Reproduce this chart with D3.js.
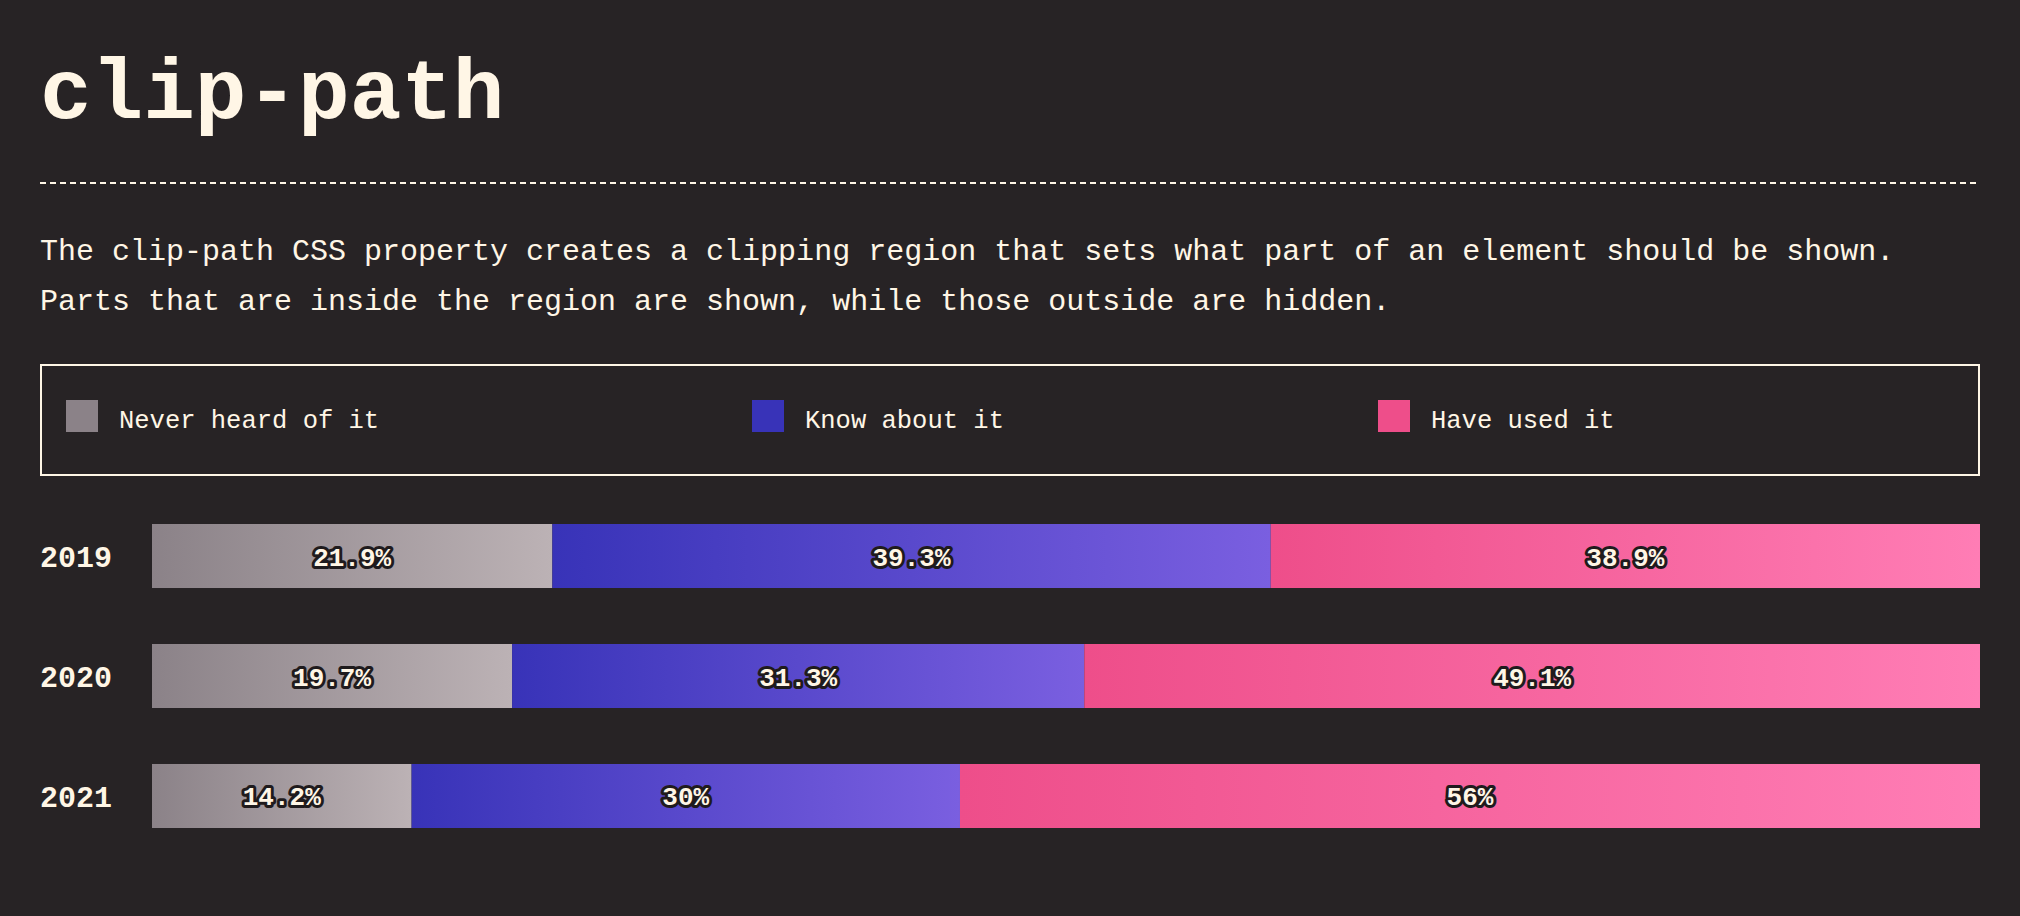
<!DOCTYPE html>
<html><head><meta charset="utf-8">
<script src="https://cdn.jsdelivr.net/npm/d3@7"></script>
<style>
html,body{margin:0;padding:0;background:#272325;}
svg{display:block;}
</style></head>
<body>
<svg id="chart" width="2020" height="916"></svg>
<script>
const years = ["2019", "2020", "2021"];
const seriesNames = ["Never heard of it", "Know about it", "Have used it"];
const neverHeard = [21.9, 19.7, 14.2];
const knowAbout = [39.3, 31.3, 30];
const haveUsed = [38.9, 49.1, 56];
const labels = [["21.9%", "39.3%", "38.9%"], ["19.7%", "31.3%", "49.1%"], ["14.2%", "30%", "56%"]];
const gradStart = ["#8b8288", "#3833b8", "#ee4e8a"];
const gradEnd = ["#bcb2b5", "#7a5fe0", "#ff7db5"];

const cream = "#fff6e6";
const mono = "'Liberation Mono', 'DejaVu Sans Mono', monospace";
const svg = d3.select("#chart");

// Gradients
const defs = svg.append("defs");
seriesNames.forEach((s, i) => {
  const g = defs.append("linearGradient").attr("id", "g" + i)
    .attr("x1", "0%").attr("x2", "100%").attr("y1", "0%").attr("y2", "0%");
  g.append("stop").attr("offset", "0%").attr("stop-color", gradStart[i]);
  g.append("stop").attr("offset", "100%").attr("stop-color", gradEnd[i]);
});

// Title
svg.append("text").attr("x", 40).attr("y", 118)
  .attr("font-family", mono).attr("font-weight", 700).attr("font-size", 86)
  .attr("fill", cream).text("clip-path");

// Dashed rule
svg.append("line").attr("x1", 40).attr("x2", 1980).attr("y1", 183).attr("y2", 183)
  .attr("stroke", cream).attr("stroke-width", 2).attr("stroke-dasharray", "6 4");

// Description
const desc = ["The clip-path CSS property creates a clipping region that sets what part of an element should be shown.",
  "Parts that are inside the region are shown, while those outside are hidden."];
svg.selectAll("text.desc").data(desc).join("text").attr("class", "desc")
  .attr("x", 40).attr("y", (d, i) => 260 + i * 50)
  .attr("font-family", mono).attr("font-size", 30).attr("fill", cream).text(d => d);

// Legend
svg.append("rect").attr("x", 41).attr("y", 365).attr("width", 1938).attr("height", 110)
  .attr("fill", "none").attr("stroke", cream).attr("stroke-width", 2);
const legendX = [66, 752, 1378];
const lg = svg.selectAll("g.leg").data(seriesNames).join("g").attr("class", "leg")
  .attr("transform", (d, i) => `translate(${legendX[i]},400)`);
lg.append("rect").attr("width", 32).attr("height", 32).attr("fill", (d, i) => gradStart[i]);
lg.append("text").attr("x", 53).attr("y", 28).attr("font-family", mono).attr("font-size", 25.5)
  .attr("fill", cream).text(d => d);

// Bars
const rows = years.map((y, i) => ({year: y, never: neverHeard[i], know: knowAbout[i], used: haveUsed[i], labels: labels[i]}));
const keys = ["never", "know", "used"];
const stack = d3.stack().keys(keys)(rows);

const x = d3.scaleLinear().domain([0, 100]).range([152, 1980]).clamp(true);
const y = d3.scaleBand().domain(years).range([524, 828]).paddingInner(0.4666).paddingOuter(0);

const layers = svg.selectAll("g.layer").data(stack).join("g").attr("class", "layer")
  .attr("fill", (d, i) => `url(#g${i})`);
layers.selectAll("rect").data(d => d).join("rect")
  .attr("x", d => x(d[0])).attr("width", d => x(d[1]) - x(d[0]))
  .attr("y", d => y(d.data.year)).attr("height", y.bandwidth());

// Value labels
stack.forEach((layer, li) => {
  svg.selectAll("text.val" + li).data(layer).join("text").attr("class", "val" + li)
    .attr("x", d => (x(d[0]) + x(d[1])) / 2)
    .attr("y", d => y(d.data.year) + y.bandwidth() / 2 + 9.5)
    .attr("text-anchor", "middle")
    .attr("font-family", mono).attr("font-weight", 700).attr("font-size", 26)
    .attr("fill", cream).attr("stroke", "#1f1b1d").attr("stroke-width", 6)
    .attr("stroke-linejoin", "round").attr("paint-order", "stroke")
    .text(d => d.data.labels[li]);
});

// Year labels
svg.selectAll("text.year").data(years).join("text").attr("class", "year")
  .attr("x", 40).attr("y", d => y(d) + y.bandwidth() / 2 + 11)
  .attr("font-family", mono).attr("font-weight", 700).attr("font-size", 30)
  .attr("fill", cream).text(d => d);
</script>
</body></html>
